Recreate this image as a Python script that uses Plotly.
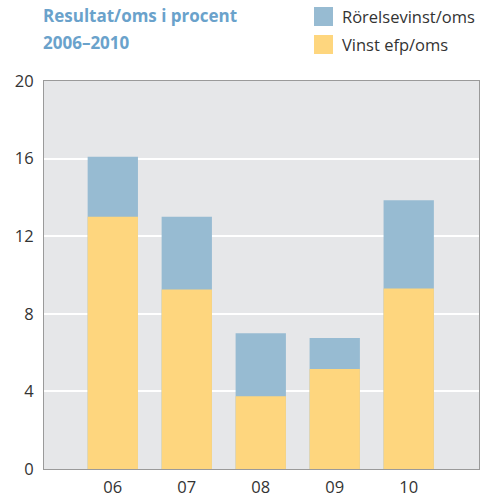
import plotly.graph_objects as go

categories = ["06", "07", "08", "09", "10"]
rorelse = [16.1, 13.0, 7.0, 6.75, 13.85]
vinst = [13.0, 9.25, 3.75, 5.15, 9.3]
series_names = ["Rörelsevinst/oms", "Vinst efp/oms"]
y_ticks = [0, 4, 8, 12, 16, 20]
title_lines = ["Resultat/oms i procent", "2006–2010"]

BLUE = "#97BBD2"
YELLOW = "#FED67E"
BG = "#E6E7E9"
TXT = "#333333"
FONT = "Open Sans"

L, R, T, B = 44, 6, 81, 33
PW, PH = 485 - L - R, 502 - T - B

def px(x):
    return (x - L) / PW

def py(y):
    return (502 - B - y) / PH

fig = go.Figure()
fig.add_trace(go.Bar(x=categories, y=rorelse, name=series_names[0], marker_color=BLUE,
                     marker_line_width=0, width=0.68, showlegend=False))
fig.add_trace(go.Bar(x=categories, y=vinst, name=series_names[1], marker_color=YELLOW,
                     marker_line_width=0, width=0.68, showlegend=False))

fig.update_layout(
    width=485, height=502,
    margin=dict(l=L, r=R, t=T, b=B, autoexpand=False),
    barmode="overlay",
    paper_bgcolor="white",
    plot_bgcolor=BG,
    font=dict(family=FONT, size=16, color=TXT),
    xaxis=dict(type="category", range=[-0.93, 4.95], showgrid=False, automargin=False,
               showline=True, linecolor="#9A9A9A", linewidth=1, mirror=True,
               ticks="", tickfont=dict(size=16.5, color=TXT), ticklabelstandoff=3),
    yaxis=dict(range=[0, 20], tickvals=y_ticks, showgrid=True, gridcolor="white",
               gridwidth=2, showline=True, linecolor="#9A9A9A", linewidth=1, automargin=False,
               mirror=True, ticks="", zeroline=False, tickfont=dict(size=16.5, color=TXT),
               ticklabelstandoff=6),
)

# Title
for i, line in enumerate(title_lines):
    fig.add_annotation(text="<b>" + line + "</b>", xref="paper", yref="paper",
                       x=px(41), y=py(16 + i * 27), xanchor="left", yanchor="middle",
                       align="left", showarrow=False,
                       font=dict(family=FONT, size=17, color="#6AA2CB"))

# Legend
for i, (name, col) in enumerate(zip(series_names, [BLUE, YELLOW])):
    top = 7 + i * 28
    fig.add_shape(type="rect", xref="paper", yref="paper",
                  x0=px(314), x1=px(333), y0=py(top + 19), y1=py(top),
                  fillcolor=col, line_width=0)
    fig.add_annotation(text=name, xref="paper", yref="paper",
                       x=px(340), y=py(top + 9.5),
                       xanchor="left", yanchor="middle", showarrow=False,
                       font=dict(family=FONT, size=16.5, color=TXT))

fig.write_html("out.html", config={"displayModeBar": False},
               post_script="document.body.style.margin='0';")
